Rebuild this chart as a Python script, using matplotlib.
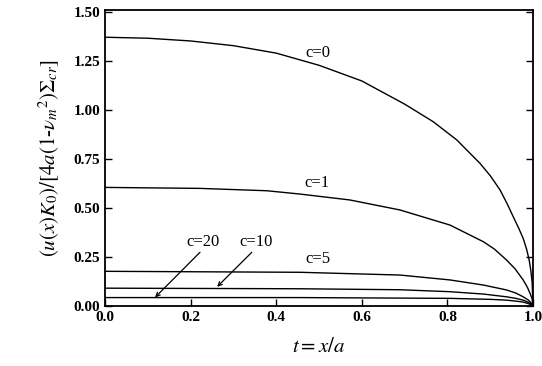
import matplotlib.pyplot as plt
import numpy as np

plt.rcParams['font.family'] = ['Liberation Serif', 'DejaVu Serif']
plt.rcParams['mathtext.fontset'] = 'stix'

# curves: t = x/a and normalised displacement
t_c0 = [0.0, 0.1, 0.2, 0.3, 0.4, 0.5, 0.6, 0.7, 0.767,
        0.822, 0.876, 0.90, 0.923, 0.94, 0.955, 0.967, 0.977, 0.985, 0.991,
        0.995, 0.998, 1.0]
v_c0 = [1.371, 1.366, 1.352, 1.328, 1.29, 1.228, 1.148, 1.03, 0.94,
        0.847, 0.728, 0.665, 0.592, 0.52, 0.45, 0.395, 0.345, 0.29, 0.235,
        0.18, 0.12, 0.0]

t_c1 = [0.0, 0.222, 0.378, 0.456, 0.572, 0.689, 0.806, 0.884, 0.91, 0.938,
        0.958, 0.977, 0.987, 0.994, 0.998, 1.0]
v_c1 = [0.605, 0.60, 0.588, 0.571, 0.541, 0.49, 0.413, 0.328, 0.29, 0.235,
        0.19, 0.133, 0.095, 0.06, 0.035, 0.0]

t_c5 = [0.0, 0.456, 0.689, 0.806, 0.884, 0.938, 0.96, 0.977, 0.988, 0.995, 1.0]
v_c5 = [0.177, 0.172, 0.158, 0.133, 0.107, 0.082, 0.066, 0.047, 0.032, 0.018, 0.0]

t_c10 = [0.0, 0.456, 0.689, 0.806, 0.884, 0.938, 0.96, 0.977, 0.988, 0.995, 1.0]
v_c10 = [0.091, 0.088, 0.083, 0.073, 0.061, 0.047, 0.039, 0.03, 0.02, 0.011, 0.0]

t_c20 = [0.0, 0.456, 0.806, 0.90, 0.938, 0.96, 0.977, 0.988, 0.995, 1.0]
v_c20 = [0.043, 0.043, 0.039, 0.034, 0.03, 0.025, 0.02, 0.013, 0.007, 0.0]

curves = [(t_c0, v_c0), (t_c1, v_c1), (t_c5, v_c5), (t_c10, v_c10), (t_c20, v_c20)]

xticks = [0.0, 0.2, 0.4, 0.6, 0.8, 1.0]
yticks = [0.0, 0.25, 0.50, 0.75, 1.00, 1.25, 1.50]

fig = plt.figure(figsize=(5.42, 3.66), dpi=100)
ax = fig.add_axes([0.1937, 0.1639, 0.7897, 0.8088])

for t, v in curves:
    ax.plot(t, v, color='black', lw=1.0)

ax.set_xlim(0, 1.0)
ax.set_ylim(0, 1.51)
ax.set_xticks(xticks)
ax.set_xticklabels(['%.1f' % x for x in xticks], fontweight='bold')
ax.set_yticks(yticks)
ax.set_yticklabels(['%.2f' % y for y in yticks], fontweight='bold')
ax.tick_params(direction='in', length=5, width=1.0, labelsize=11,
               right=True, top=False, colors='black')
for s in ax.spines.values():
    s.set_linewidth(1.3)

ax.text(0.498, 1.292, 'c=0', fontsize=12, ha='center', va='center')
ax.text(0.495, 0.629, 'c=1', fontsize=12, ha='center', va='center')
ax.text(0.498, 0.238, 'c=5', fontsize=12, ha='center', va='center')
ax.text(0.354, 0.328, 'c=10', fontsize=12, ha='center', va='center')
ax.text(0.230, 0.328, 'c=20', fontsize=12, ha='center', va='center')

arrow = dict(arrowstyle='->', color='black', lw=0.9, shrinkA=0, shrinkB=0,
             mutation_scale=7)
ax.annotate('', xy=(0.117, 0.044), xytext=(0.222, 0.274), arrowprops=arrow)
ax.annotate('', xy=(0.262, 0.098), xytext=(0.343, 0.274), arrowprops=arrow)

ax.set_xlabel(r'$t = x/a$', fontsize=15, labelpad=10)
ax.set_ylabel(r'$(u(x)K_0)/[4a(1$-$\nu_m{}^2)\Sigma_{cr}]$', fontsize=15, labelpad=8)

fig.savefig('out.png', dpi=100)
